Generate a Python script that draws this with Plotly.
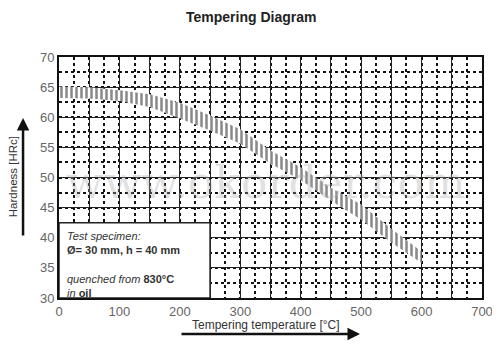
import plotly.graph_objects as go

# Data
temperature = [0, 50, 100, 150, 200, 250, 300, 350, 400, 450, 500, 550, 600]
hardness_max = [65.1, 65.0, 64.5, 63.8, 62.4, 60.3, 58.0, 54.5, 51.7, 48.3, 45.5, 41.5, 37.7]
hardness_min = [63.2, 63.1, 62.7, 61.7, 59.8, 57.8, 55.6, 52.3, 49.6, 46.2, 43.0, 39.2, 35.8]

x_tickvals = list(range(0, 701, 50))
x_ticktext = [str(v) if v % 100 == 0 else "" for v in x_tickvals]
y_tickvals = list(range(30, 71, 5))

box_x = [0, 250]
box_y = [30, 42.5]

fig = go.Figure()
fig.add_trace(go.Scatter(x=temperature, y=hardness_max, mode="lines",
                         line=dict(width=0, color="rgba(0,0,0,0)"), showlegend=False,
                         hoverinfo="skip"))
fig.add_trace(go.Scatter(x=temperature, y=hardness_min, mode="lines",
                         line=dict(width=0, color="rgba(0,0,0,0)"), showlegend=False,
                         fill="tonexty", fillcolor="rgba(255,255,255,1)",
                         fillpattern=dict(shape="|", fgcolor="#111111", bgcolor="white",
                                          size=5, solidity=0.5),
                         hoverinfo="skip"))

fig.add_shape(type="rect", x0=box_x[0], x1=box_x[1], y0=box_y[0], y1=box_y[1],
              xref="x", yref="y", fillcolor="white",
              line=dict(color="#222", width=1.5), layer="above")

grid_common = dict(showline=True, linecolor="#111", linewidth=2, mirror=True,
                   showgrid=True, gridcolor="#222", gridwidth=1, zeroline=False,
                   ticks="", automargin=False,
                   tickfont=dict(family="Liberation Sans, Arial", size=13, color="#666"))

fig.update_xaxes(range=[0, 700], tickvals=x_tickvals, ticktext=x_ticktext,
                 minor=dict(dtick=25, tick0=0, showgrid=True, griddash="dot",
                            gridcolor="#111", gridwidth=2),
                 **grid_common)
fig.update_yaxes(range=[30, 70], tickvals=y_tickvals,
                 minor=dict(dtick=2.5, tick0=30, showgrid=True, griddash="dot",
                            gridcolor="#111", gridwidth=2),
                 **grid_common)

ann_font = dict(family="Liberation Sans, Arial", color="#333")
annotations = [
    dict(text="<b>Tempering Diagram</b>", xref="paper", yref="paper", x=0.454, y=1.166,
         xanchor="center", yanchor="middle",
         showarrow=False, font=dict(family="Liberation Sans, Arial", size=14, color="#222")),
    dict(text="Hardness [HRc]", xref="paper", yref="paper", x=-0.109, y=0.505, textangle=-90,
         xanchor="center", yanchor="middle",
         showarrow=False, font=dict(size=11.5, **ann_font)),
    dict(text="Tempering temperature [°C]", xref="paper", yref="paper", x=0.489, y=-0.112,
         xanchor="center", yanchor="middle",
         showarrow=False, font=dict(size=12, **ann_font)),
    dict(text="", xref="paper", yref="paper", x=-0.085, y=0.747, ax=0, ay=119,
         showarrow=True, arrowhead=2, arrowsize=1, arrowwidth=2.5, arrowcolor="#111"),
    dict(text="", xref="paper", yref="paper", x=0.7116, y=-0.149, ax=-180, ay=0,
         showarrow=True, arrowhead=2, arrowsize=1, arrowwidth=2.5, arrowcolor="#111"),
    dict(text="<i>Test specimen:</i><br><b>Ø= 30 mm, h = 40 mm</b><br> <br>"
              "<i>quenched from</i> <b>830°C</b><br><i>in</i> <b>oil</b>",
         xref="x", yref="y", x=10, y=41.6, xanchor="left", yanchor="top", align="left",
         showarrow=False, font=dict(size=11, **ann_font)),
    dict(text="www.okorder.com", xref="paper", yref="paper", x=0.49, y=0.48,
         xanchor="center", yanchor="middle",
         showarrow=False, font=dict(family="DejaVu Serif, serif", size=44,
                                    color="rgba(170,170,170,0.35)")),
]
# The page body has an 8px default margin, so the figure is sized and offset to compensate
fig.update_layout(width=492, height=348, margin=dict(l=51, r=18, t=49, b=58),
                  paper_bgcolor="white", plot_bgcolor="white", showlegend=False,
                  annotations=annotations)

fig.write_html("out.html")
